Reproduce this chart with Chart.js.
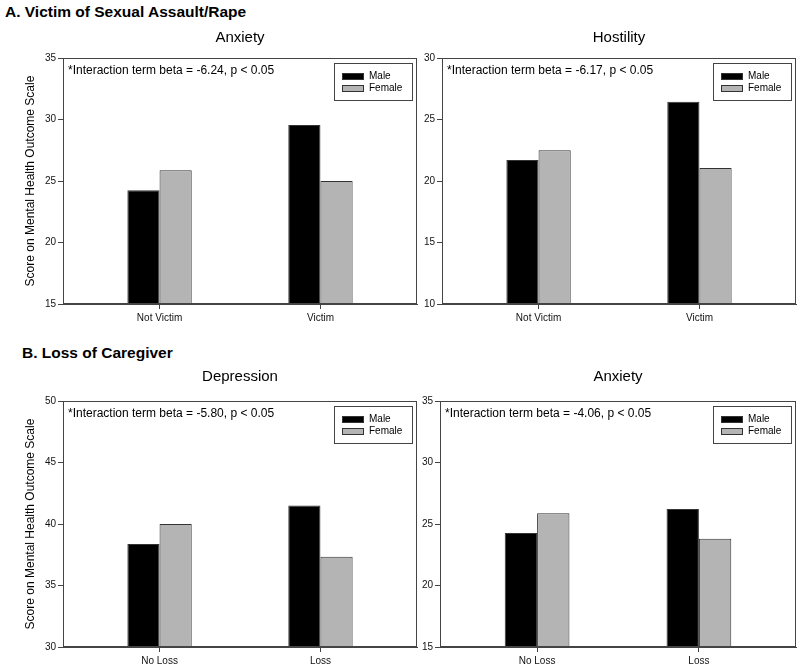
<!DOCTYPE html>
<html>
<head>
<meta charset="utf-8">
<script src="https://cdn.jsdelivr.net/npm/chart.js@4.4.1/dist/chart.umd.min.js"></script>
<style>
  body { margin:0; background:#fff; width:800px; height:669px; position:relative; overflow:hidden;
         font-family:'Liberation Sans', Arial, sans-serif; }
  .hdr { position:absolute; font-weight:bold; font-size:15.5px; line-height:1; color:#000; white-space:nowrap; }
  .panel { position:absolute; }
</style>
</head>
<body>
<div class="hdr" style="left:5px;top:4px">A. Victim of Sexual Assault/Rape</div>
<div class="hdr" style="left:22px;top:345px">B. Loss of Caregiver</div>
<div class="panel" id="p0"><canvas id="c0"></canvas></div>
<div class="panel" id="p1"><canvas id="c1"></canvas></div>
<div class="panel" id="p2"><canvas id="c2"></canvas></div>
<div class="panel" id="p3"><canvas id="c3"></canvas></div>
<script>
// data
const seriesNames = ['Male', 'Female'];
const victimCats = ['Not Victim', 'Victim'];
const lossCats = ['No Loss', 'Loss'];

const anxVictimMale = [24.24, 29.55];
const anxVictimFemale = [25.87, 25.0];
const hostVictimMale = [21.71, 26.45];
const hostVictimFemale = [22.5, 21.06];
const depLossMale = [38.37, 41.5];
const depLossFemale = [40.0, 37.34];
const anxLossMale = [24.27, 26.22];
const anxLossFemale = [25.87, 23.8];

const panelTitles = ['Anxiety', 'Hostility', 'Depression', 'Anxiety'];
const notes = [
  '*Interaction term beta = -6.24, p < 0.05',
  '*Interaction term beta = -6.17, p < 0.05',
  '*Interaction term beta = -5.80, p < 0.05',
  '*Interaction term beta = -4.06, p < 0.05'
];
const yMins = [15, 10, 30, 15];
const yMaxs = [35, 30, 50, 35];
const yTitle = 'Score on Mental Health Outcome Scale';

const panels = [
  { cats: victimCats, male: anxVictimMale, female: anxVictimFemale },
  { cats: victimCats, male: hostVictimMale, female: hostVictimFemale },
  { cats: lossCats, male: depLossMale, female: depLossFemale },
  { cats: lossCats, male: anxLossMale, female: anxLossFemale }
];

// plot-area boxes on the page (layout only)
const geo = [
  { L:63,  T:58,  R:417, B:304, yt:true,  tg:11 },
  { L:442, T:58,  R:796, B:304, yt:false, tg:11 },
  { L:63,  T:401, R:417, B:647, yt:true,  tg:15 },
  { L:440, T:401, R:796, B:647, yt:false, tg:15 }
];

const FONT = "'Liberation Sans', Arial, sans-serif";
const AXIS = '#444';

// full box round the plot area
const frame = {
  id: 'frame',
  afterDatasetsDraw(chart){
    const a = chart.chartArea, ctx = chart.ctx;
    ctx.save();
    ctx.strokeStyle = AXIS; ctx.lineWidth = 1;
    ctx.strokeRect(Math.round(a.left) + 0.5, Math.round(a.top) + 0.5,
                   Math.round(a.right - a.left) - 1, Math.round(a.bottom - a.top) - 1);
    ctx.restore();
  }
};

// note text + boxed legend in the top corners
const extras = {
  id: 'extras',
  afterDraw(chart, args, opts){
    const a = chart.chartArea, ctx = chart.ctx;
    ctx.save();
    ctx.fillStyle = '#000';
    ctx.font = '12px ' + FONT;
    ctx.textBaseline = 'top';
    ctx.fillText(opts.note, a.left + 5, a.top + 7);

    const w = 78, h = 37;
    const x = Math.round(a.right) - 5 - w, y = Math.round(a.top) + 5;
    ctx.strokeStyle = AXIS; ctx.lineWidth = 1;
    ctx.strokeRect(x + 0.5, y + 0.5, w, h);
    ctx.font = '10px ' + FONT;
    ctx.textBaseline = 'middle';
    chart.data.datasets.forEach((ds, k) => {
      const cy = y + 13 + k * 12;
      ctx.fillStyle = ds.backgroundColor;
      ctx.fillRect(x + 8, cy - 3, 22, 6);
      ctx.strokeStyle = '#333';
      ctx.strokeRect(x + 8.5, cy - 2.5, 21, 6);
      ctx.fillStyle = '#000';
      ctx.fillText(ds.label, x + 35, cy + 0.5);
    });
    ctx.restore();
  }
};

function makeChart(i){
  const g = geo[i], p = panels[i];
  const yw = g.yt ? 63 : 22, xh = 30, padTop = 4, padR = 4;
  const titleH = 18 + g.tg;
  const left = g.L - yw, top = g.T - padTop - titleH;
  const box = document.getElementById('p' + i);
  box.style.left = left + 'px';
  box.style.top = top + 'px';
  box.style.width = (g.R - left + padR) + 'px';
  box.style.height = (g.B + xh - top) + 'px';

  const xs = p.cats.map((c, k) => k + 1);
  new Chart(document.getElementById('c' + i), {
    type: 'bar',
    data: {
      datasets: [
        { label: seriesNames[0], data: p.male.map((v, k) => ({ x: xs[k], y: v })),
          backgroundColor: '#000000', borderColor: '#333', borderWidth: 1 },
        { label: seriesNames[1], data: p.female.map((v, k) => ({ x: xs[k], y: v })),
          backgroundColor: '#b4b4b4', borderColor: '#333', borderWidth: 1 }
      ]
    },
    options: {
      responsive: true,
      maintainAspectRatio: false,
      animation: false,
      categoryPercentage: 0.4,
      barPercentage: 1.0,
      layout: { padding: { top: padTop, right: padR, left: 0, bottom: 0 }, autoPadding: false },
      plugins: {
        legend: { display: false },
        tooltip: { enabled: false },
        title: { display: true, text: panelTitles[i], fullSize: false, color: '#000',
                 font: { family: FONT, size: 15, weight: 'normal' }, padding: { top: 0, bottom: g.tg } },
        extras: { note: notes[i] }
      },
      scales: {
        x: {
          type: 'linear', min: 0.4, max: 2.6, offset: false,
          afterBuildTicks: s => { s.ticks = xs.map(v => ({ value: v })); },
          afterFit: s => { s.height = xh; },
          grid: { offset: false, drawOnChartArea: false, drawTicks: true, tickLength: 5, color: AXIS },
          border: { display: true, color: AXIS },
          ticks: { callback: v => p.cats[v - 1], color: '#111', padding: 3,
                   maxRotation: 0, autoSkip: false, font: { family: FONT, size: 10 } }
        },
        y: {
          min: yMins[i], max: yMaxs[i],
          afterFit: s => { s.width = yw; },
          grid: { drawOnChartArea: false, drawTicks: true, tickLength: 5, color: AXIS },
          border: { display: true, color: AXIS },
          ticks: { stepSize: 5, color: '#111', padding: 2, font: { family: FONT, size: 10 } },
          title: { display: g.yt, text: yTitle, color: '#000',
                   font: { family: FONT, size: 12 }, padding: { top: 23, bottom: 0 } }
        }
      }
    },
    plugins: [frame, extras]
  });
}

for (let i = 0; i < 4; i++) makeChart(i);
</script>
</body>
</html>
